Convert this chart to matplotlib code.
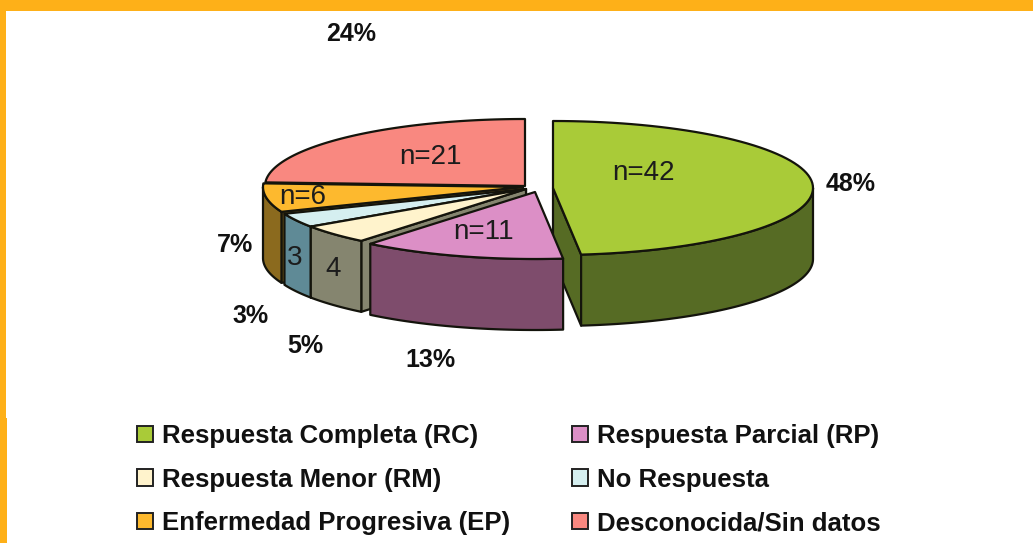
import numpy as np
import matplotlib
matplotlib.use('Agg')
import matplotlib.pyplot as plt
from matplotlib.patches import Polygon, Patch, Rectangle

plt.rcParams['font.family'] = ['Liberation Sans', 'DejaVu Sans']

categories = ['Respuesta Completa (RC)', 'Respuesta Parcial (RP)', 'Respuesta Menor (RM)',
              'No Respuesta', 'Enfermedad Progresiva (EP)', 'Desconocida/Sin datos']
counts = [42, 11, 4, 3, 6, 21]
percents = ['48%', '13%', '5%', '3%', '7%', '24%']
inside_labels = ['n=42', 'n=11', '4', '3', 'n=6', 'n=21']

top_colors = ['#a9cb38', '#dc8fc6', '#fff3cc', '#d5eff0', '#fdb92e', '#f98880']
side_colors = ['#566b24', '#7e4c6c', '#85856f', '#5f8a96', '#8b6a1e', '#f98880']
frame_color = '#feb018'

# pixel layout of the fake 3d pie
centers = [(553, 188), (535, 192), (526, 189), (526, 189), (523, 187), (525, 186)]
rx, ry, depth = 260, 67, 71
pct_pos = [(851, 184), (430, 360), (305, 346), (251, 316), (235, 245), (351, 34)]
inside_pos = [(643, 173), (484, 232), (333, 269), (295, 258), (303, 197), (430, 157)]


def arc(c, a0, a1, n=80):
    # angles clockwise from 12 o'clock, in degrees
    t = np.radians(np.linspace(a0, a1, n))
    return np.column_stack([c[0] + rx * np.sin(t), c[1] - ry * np.cos(t)])


fig = plt.figure(figsize=(10.33, 5.43), dpi=100)
ax = fig.add_axes([0, 0, 1, 1])
ax.set_xlim(0, 1033)
ax.set_ylim(543, 0)
ax.axis('off')

ax.add_patch(Rectangle((0, 0), 1033, 10.5, color=frame_color, lw=0))
ax.add_patch(Rectangle((0, 0), 6, 418, color=frame_color, lw=0))
ax.add_patch(Rectangle((0, 418), 7, 125, color=frame_color, lw=0))

edges = np.cumsum([0] + counts) / sum(counts) * 360
line = dict(edgecolor='#14140c', linewidth=1.6, joinstyle='round')

# back to front: green, red, orange, blue, yellow, pink
for i in [0, 5, 4, 3, 2, 1]:
    c = centers[i]
    a0, a1 = edges[i], edges[i + 1]
    # cut faces that turn towards the viewer
    cuts = []
    if a1 < 180:
        cuts.append(a1)
    if 180 < a0 < 270:
        cuts.append(a0)
    for cut in cuts:
        p = arc(c, cut, cut, 2)[0]
        ax.add_patch(Polygon([c, p, p + [0, depth], (c[0], c[1] + depth)],
                             facecolor=side_colors[i], **line))
    # outer wall on the front half
    w0, w1 = max(a0, 90), min(a1, 270)
    if w1 > w0:
        a = arc(c, w0, w1)
        wall = np.vstack([a, (a + [0, depth])[::-1]])
        ax.add_patch(Polygon(wall, facecolor=side_colors[i], **line))
    top = np.vstack([[c], arc(c, a0, a1)])
    ax.add_patch(Polygon(top, facecolor=top_colors[i], **line))

for i in range(len(counts)):
    ax.text(*inside_pos[i], inside_labels[i], fontsize=20, color='#1c1c1c',
            ha='center', va='center')
    ax.text(*pct_pos[i], percents[i], fontsize=18, fontweight='bold', color='#111111',
            ha='center', va='center')

order = [0, 2, 4, 1, 3, 5]
handles = [Patch(facecolor=top_colors[i], edgecolor='#222222', linewidth=1.4) for i in order]
ax.legend(handles, [categories[i] for i in order], ncol=2, frameon=False,
          loc='upper left', bbox_to_anchor=(114 / 1033, 1 - 401 / 543),
          prop={'size': 18.5, 'weight': 'bold'}, handlelength=0.6, handleheight=0.6,
          handletextpad=0.36, labelspacing=0.76, columnspacing=2.42, labelcolor='#111111')

fig.savefig('out.png', dpi=100)
